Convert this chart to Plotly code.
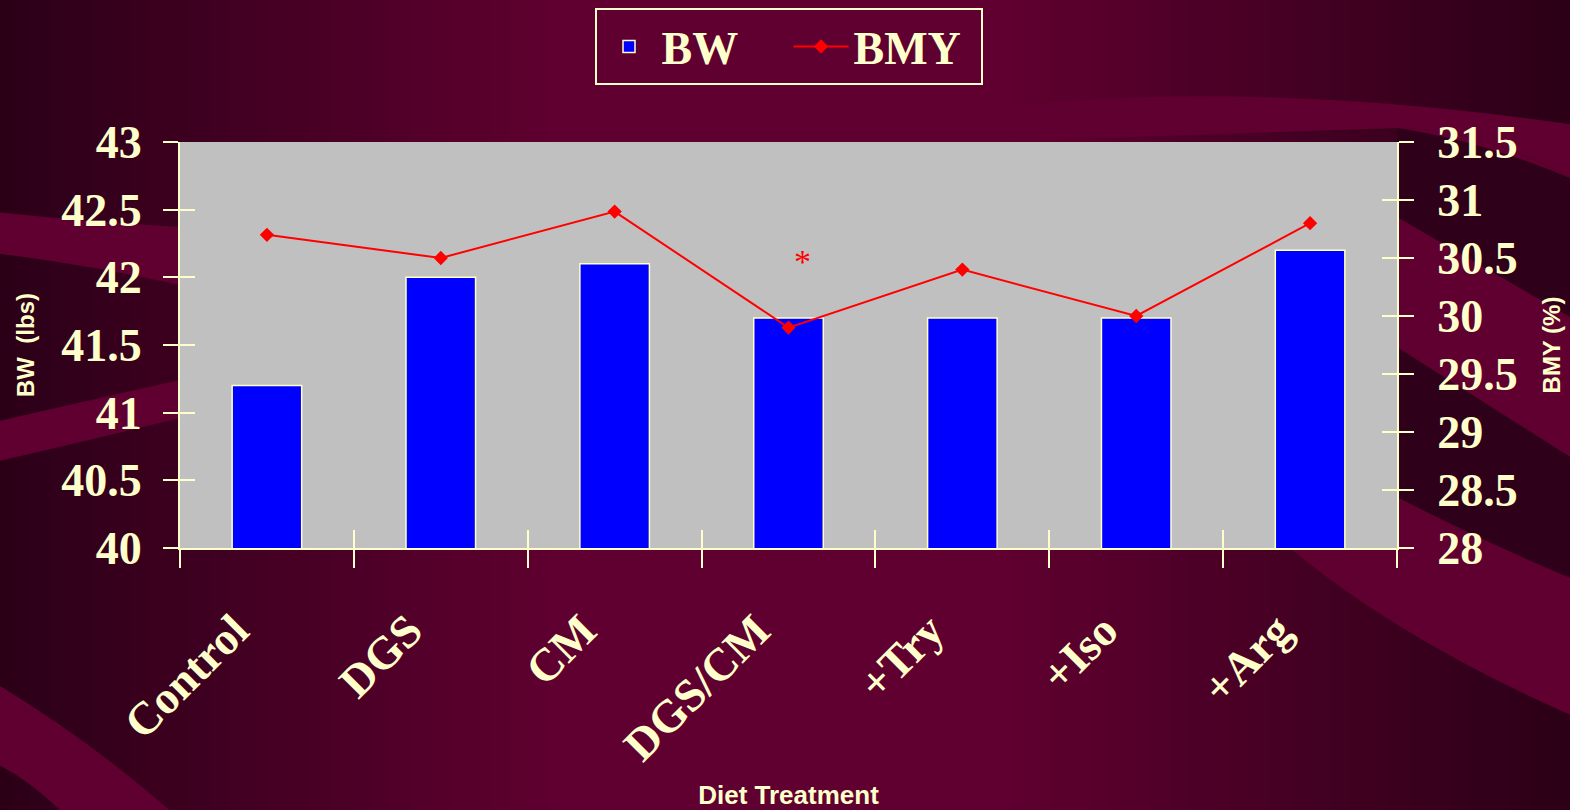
import plotly.graph_objects as go

# data
treatments = ["Control", "DGS", "CM", "DGS/CM", "+Try", "+Iso", "+Arg"]
bw_lbs = [41.2, 42.0, 42.1, 41.7, 41.7, 41.7, 42.2]
bmy_pct = [30.7, 30.5, 30.9, 29.9, 30.4, 30.0, 30.8]
bw_range = [40, 43]
bmy_range = [28, 31.5]
sig_label = "*"
sig_treatment = "DGS/CM"
sig_bmy = 30.47

CREAM = "#FFFFCC"
SERIF = "Liberation Serif, Times New Roman, serif"
SANS = "Liberation Sans, Arial, sans-serif"

W, H = 1570, 810
# plot area in pixels, used only for the decorative slide background
L, R, T, B = 180, 1397, 142, 548


def pt(px, py):
    return f"{(px - L) / (R - L):.4f},{(B - py) / (B - T):.4f}"


def swoosh(cmds, color):
    path = ""
    for c, *pts in cmds:
        path += c + " " + " ".join(pt(*p) for p in pts) + " "
    return dict(type="path", xref="paper", yref="paper", layer="below",
                path=path + "Z", fillcolor=color, line=dict(width=0))


def mix(c1, c2, t):
    a = [int(c1[i:i + 2], 16) for i in (1, 3, 5)]
    b = [int(c2[i:i + 2], 16) for i in (1, 3, 5)]
    return "#" + "".join(f"{round(x + (y - x) * t):02x}" for x, y in zip(a, b))


EDGE = "#2b0017"
LIGHT = "#600030"
DARK = "#2f0019"


def shade(px):
    if px < 560:
        return mix(EDGE, LIGHT, px / 560)
    if px < 1000:
        return LIGHT
    return mix(LIGHT, EDGE, (px - 1000) / 570)


# horizontal gradient of the slide, drawn as thin strips
bg_shapes = []
step = 20
for x0 in range(-10, W + 10, step):
    bg_shapes.append(dict(
        type="rect", xref="paper", yref="paper", layer="below",
        x0=(x0 - L) / (R - L), x1=(x0 + step + 1 - L) / (R - L),
        y0=(B - H - 10) / (B - T), y1=(B + 10) / (B - T),
        fillcolor=shade(x0 + step / 2), line=dict(width=0),
    ))

bg_shapes += [
    # left bands
    swoosh([("M", (-5, 212)), ("Q", (90, 222), (180, 227)), ("L", (180, 285)),
            ("Q", (90, 265), (-5, 253))], LIGHT),
    swoosh([("M", (-5, 422)), ("Q", (90, 400), (180, 380)), ("L", (180, 418)),
            ("Q", (90, 440), (-5, 462))], LIGHT),
    # bottom-left band
    swoosh([("M", (-5, 683)), ("Q", (90, 740), (175, 815)), ("L", (65, 815)),
            ("Q", (30, 780), (-5, 763))], LIGHT),
    # top-right swoosh
    swoosh([("M", (990, 108)), ("Q", (1250, 78), (1575, 125)), ("L", (1575, 180)),
            ("Q", (1480, 128), (1397, 128)), ("L", (990, 142))], LIGHT),
    # right side of the plot: light then two dark bands
    swoosh([("M", (1397, 128)), ("Q", (1480, 128), (1575, 180)), ("L", (1575, 600)),
            ("L", (1397, 548))], LIGHT),
    swoosh([("M", (1397, 128)), ("Q", (1480, 140), (1575, 180)), ("L", (1575, 320)),
            ("Q", (1480, 265), (1397, 217))], DARK),
    swoosh([("M", (1397, 347)), ("Q", (1480, 400), (1575, 460)), ("L", (1575, 580)),
            ("Q", (1480, 540), (1397, 497))], DARK),
    # bottom-right band
    swoosh([("M", (1290, 548)), ("L", (1480, 548)), ("Q", (1530, 570), (1575, 600)),
            ("L", (1575, 717)), ("Q", (1400, 640), (1290, 548))], LIGHT),
    # plot area background on top of the slide art
    dict(type="rect", xref="paper", yref="paper", layer="below",
         x0=0, x1=1, y0=0, y1=1, fillcolor="#C0C0C0", line=dict(width=0)),
]

fig = go.Figure()

fig.add_trace(go.Bar(
    x=treatments, y=bw_lbs, name="BW", width=0.4,
    marker=dict(color="#0000FF", line=dict(color=CREAM, width=1.5)),
))
fig.add_trace(go.Scatter(
    x=treatments, y=bmy_pct, name="BMY", yaxis="y2", mode="lines+markers",
    line=dict(color="#FF0000", width=2),
    marker=dict(symbol="diamond", size=11, color="#FF0000"),
))
# empty traces so the overlay axes (crossing tick marks) get drawn
fig.add_trace(go.Scatter(x=[None], y=[None], xaxis="x2", yaxis="y3",
                         showlegend=False, hoverinfo="skip"))
fig.add_trace(go.Scatter(x=[None], y=[None], xaxis="x2", yaxis="y4",
                         showlegend=False, hoverinfo="skip"))

n = len(treatments)
tick_font = dict(family=SERIF, size=46, color=CREAM, weight="bold")
ytitle_font = dict(family=SANS, size=24, color=CREAM, weight="bold")
xtitle_font = dict(family=SANS, size=26, color=CREAM, weight="bold")

fig.update_layout(
    width=W, height=H,
    margin=dict(l=L, r=W - R, t=T, b=H - B, autoexpand=False),
    paper_bgcolor=EDGE,
    plot_bgcolor="#C0C0C0",
    shapes=bg_shapes,
    showlegend=True,
    legend=dict(
        orientation="h", xref="paper", x=0.5, xanchor="center",
        yref="container", y=1 - 8 / H, yanchor="top",
        bgcolor=LIGHT, bordercolor=CREAM, borderwidth=2,
        font=dict(family=SERIF, size=46, color=CREAM, weight="bold"),
        itemwidth=55, entrywidth=122, entrywidthmode="pixels",
    ),
    xaxis=dict(
        type="category", tickson="boundaries", ticks="outside", ticklen=18,
        tickwidth=2, tickcolor=CREAM, showline=True, linecolor=CREAM, linewidth=2,
        tickangle=-45, tickfont=dict(family=SERIF, size=46, color=CREAM, weight="bold"),
        ticklabelshift=-32, ticklabelstandoff=35, automargin=False,
        title=dict(text="Diet Treatment", font=xtitle_font, standoff=19),
        showgrid=False,
    ),
    xaxis2=dict(
        overlaying="x", range=[-0.5, n - 0.5],
        tickvals=[i - 0.5 for i in range(n + 1)], ticks="inside", ticklen=18,
        tickwidth=2, tickcolor=CREAM, showticklabels=False, showline=False,
        showgrid=False, zeroline=False,
    ),
    yaxis=dict(
        range=bw_range, dtick=0.5, ticks="outside", ticklen=15, tickwidth=2,
        tickcolor=CREAM, showline=True, linecolor=CREAM, linewidth=2,
        tickfont=tick_font, showgrid=False, zeroline=False, ticklabelstandoff=12,
        automargin=False,
        title=dict(text="BW  (lbs)", font=ytitle_font, standoff=20),
    ),
    yaxis2=dict(
        overlaying="y", side="right", range=bmy_range, dtick=0.5,
        ticks="outside", ticklen=15, tickwidth=2, tickcolor=CREAM,
        showline=True, linecolor=CREAM, linewidth=2, ticklabelstandoff=14,
        tickfont=tick_font, showgrid=False, zeroline=False, automargin=False,
        title=dict(text="BMY (%)", font=ytitle_font, standoff=26),
    ),
    yaxis3=dict(
        overlaying="y", side="left", range=bw_range, dtick=0.5, ticks="inside",
        ticklen=15, tickwidth=2, tickcolor=CREAM, showticklabels=False,
        showline=False, showgrid=False, zeroline=False,
    ),
    yaxis4=dict(
        overlaying="y", side="right", range=bmy_range, dtick=0.5, ticks="inside",
        ticklen=15, tickwidth=2, tickcolor=CREAM, showticklabels=False,
        showline=False, showgrid=False, zeroline=False,
    ),
    annotations=[dict(
        x=sig_treatment, y=sig_bmy, xref="x", yref="y2", text=sig_label,
        showarrow=False, font=dict(family=SERIF, size=34, color="#FF0000"),
        xshift=14,
    )],
)

fig.write_html("out.html", config={"displayModeBar": False},
               post_script="document.body.style.margin='0';")
